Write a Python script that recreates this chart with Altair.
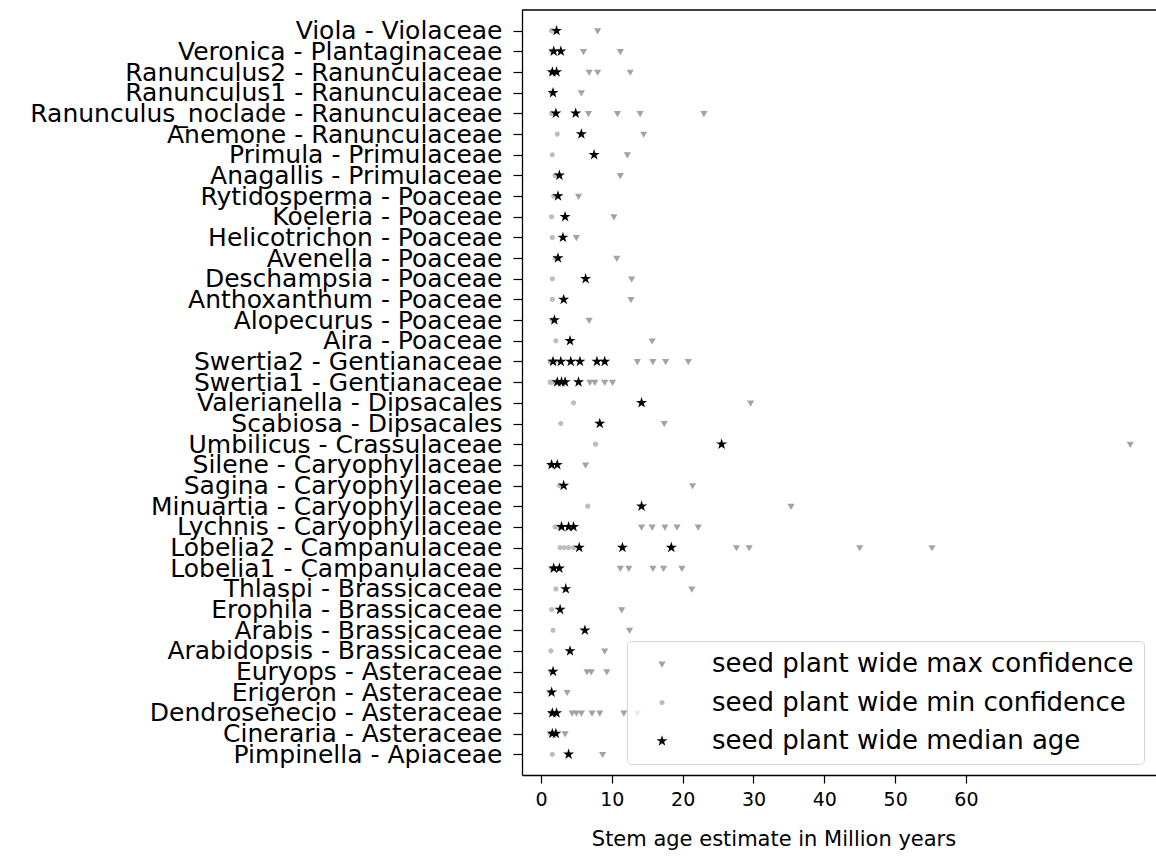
import altair as alt
import pandas as pd

# Taxa (genus - family), listed top to bottom
categories = [
    "Viola - Violaceae",
    "Veronica - Plantaginaceae",
    "Ranunculus2 - Ranunculaceae",
    "Ranunculus1 - Ranunculaceae",
    "Ranunculus_noclade - Ranunculaceae",
    "Anemone - Ranunculaceae",
    "Primula - Primulaceae",
    "Anagallis - Primulaceae",
    "Rytidosperma - Poaceae",
    "Koeleria - Poaceae",
    "Helicotrichon - Poaceae",
    "Avenella - Poaceae",
    "Deschampsia - Poaceae",
    "Anthoxanthum - Poaceae",
    "Alopecurus - Poaceae",
    "Aira - Poaceae",
    "Swertia2 - Gentianaceae",
    "Swertia1 - Gentianaceae",
    "Valerianella - Dipsacales",
    "Scabiosa - Dipsacales",
    "Umbilicus - Crassulaceae",
    "Silene - Caryophyllaceae",
    "Sagina - Caryophyllaceae",
    "Minuartia - Caryophyllaceae",
    "Lychnis - Caryophyllaceae",
    "Lobelia2 - Campanulaceae",
    "Lobelia1 - Campanulaceae",
    "Thlaspi - Brassicaceae",
    "Erophila - Brassicaceae",
    "Arabis - Brassicaceae",
    "Arabidopsis - Brassicaceae",
    "Euryops - Asteraceae",
    "Erigeron - Asteraceae",
    "Dendrosenecio - Asteraceae",
    "Cineraria - Asteraceae",
    "Pimpinella - Apiaceae",
]

# Stem age estimates (Myr), one list per taxon, same order as categories
max_confidence = [
    [8.0], [6.0, 11.2], [6.8, 8.0, 12.6], [5.7], [6.7, 10.8, 14.0, 23.0],
    [14.5], [12.2], [11.2], [5.3], [10.3], [5.0], [10.7], [12.8], [12.7],
    [6.8], [15.7], [13.6, 15.8, 17.6, 20.8], [6.9, 7.6, 9.0, 10.1], [29.6],
    [17.4], [83.2], [6.3], [21.4], [35.3], [14.2, 15.7, 17.5, 19.2, 22.2],
    [27.6, 29.4, 45.0, 55.2], [11.2, 12.4, 15.8, 17.3, 19.9], [21.3], [11.4],
    [12.5], [9.0], [6.5, 7.1, 9.3], [3.7], [4.4, 5.0, 5.7, 7.2, 8.3, 11.7, 13.6],
    [3.4], [8.7],
]
min_confidence = [
    [1.5], [1.5], [1.4], [1.5], [1.5], [2.3], [1.6], [2.0], [1.8], [1.5],
    [1.6], [2.0], [1.6], [1.6], [1.6], [2.1], [1.3, 1.5, 2.0], [1.3, 1.6, 2.0],
    [4.6], [2.8], [7.7], [1.3], [2.6], [6.6], [2.0, 2.5], [2.7, 3.3, 3.9, 4.6],
    [1.5], [2.1], [1.5], [1.7], [1.4], [1.4], [1.3], [1.4], [1.3], [1.6],
]
median_age = [
    [2.2], [1.8, 2.8], [1.6, 2.2], [1.7], [2.1, 4.9], [5.7], [7.5], [2.6],
    [2.4], [3.4], [3.1], [2.4], [6.3], [3.2], [1.9], [4.1],
    [1.7, 2.8, 4.2, 5.5, 7.9, 9.0], [2.3, 2.9, 3.4, 5.3], [14.2], [8.3], [25.5],
    [1.5, 2.3], [3.2], [14.2], [2.9, 3.9, 4.6], [5.4, 11.5, 18.4], [1.8, 2.6],
    [3.5], [2.7], [6.2], [4.1], [1.7], [1.5], [1.6, 2.2], [1.6, 2.1], [3.9],
]

series_names = [
    "seed plant wide max confidence",
    "seed plant wide min confidence",
    "seed plant wide median age",
]

rows = []
for name, table in zip(series_names, [max_confidence, min_confidence, median_age]):
    for cat, values in zip(categories, table):
        for v in values:
            rows.append({"taxon": cat, "series": name, "age": v})
df = pd.DataFrame(rows)

# Marker outlines in pixel units (drawn with symbol size 4, i.e. scale 1)
TRI_DOWN = "M-3.6,-2.4L3.6,-2.4L0,3.8Z"
DOT = "M-2.6,0A2.6,2.6 0 1,0 2.6,0A2.6,2.6 0 1,0 -2.6,0Z"
STAR = ("M0,-5.8L1.3,-1.79L5.52,-1.79L2.1,0.68L3.41,4.69L0,2.21"
        "L-3.41,4.69L-2.1,0.68L-5.52,-1.79L-1.3,-1.79Z")

W, H = 634, 765

points = alt.Chart(df).mark_point(
    filled=True, opacity=1, strokeWidth=0, size=4
).encode(
    x=alt.X(
        "age:Q",
        scale=alt.Scale(domain=[-2.68, 86.83], nice=False, zero=False),
        axis=alt.Axis(
            values=[0, 10, 20, 30, 40, 50, 60],
            title="Stem age estimate in Million years",
            grid=False,
            tickSize=8,
            labelPadding=7,
            labelFontSize=19,
            titleFontSize=21,
            titleFontWeight="normal",
            titleX=251.5,
            titleY=53,
            titleAnchor="middle",
        ),
    ),
    y=alt.Y(
        "taxon:N",
        sort=categories,
        scale=alt.Scale(type="point", padding=1.68),
        axis=alt.Axis(
            title=None,
            grid=False,
            tickSize=9,
            labelPadding=11,
            labelFontSize=25,
            labelLimit=700,
        ),
    ),
    color=alt.Color(
        "series:N",
        scale=alt.Scale(domain=series_names, range=["#a3a3a3", "#bdbdbd", "#000000"]),
        legend=alt.Legend(title=None),
    ),
    shape=alt.Shape(
        "series:N",
        scale=alt.Scale(domain=series_names, range=[TRI_DOWN, DOT, STAR]),
        legend=alt.Legend(title=None),
    ),
    order=alt.Order("idx:Q"),
).transform_window(idx="row_number()")

top_line = alt.Chart(pd.DataFrame({"k": [0]})).mark_rule(
    color="black", strokeWidth=1.3
).encode(x=alt.value(0), x2=alt.value(W), y=alt.value(0))

chart = (
    alt.layer(top_line, points)
    .properties(
        width=W,
        height=H,
        autosize=alt.AutoSizeParams(type="none"),
        padding={"left": 522, "top": 10, "right": 0, "bottom": 80},
    )
    .configure(font="DejaVu Sans")
    .configure_view(stroke=None)
    .configure_axis(
        domainColor="black",
        domainWidth=1.3,
        tickColor="black",
        tickWidth=1.2,
        labelColor="black",
        titleColor="black",
        labelFont="DejaVu Sans",
        titleFont="DejaVu Sans",
    )
    .configure_legend(
        orient="none",
        legendX=105,
        legendY=631,
        labelFontSize=26,
        labelFont="DejaVu Sans",
        labelColor="black",
        labelLimit=700,
        padding=10,
        rowPadding=12.5,
        symbolSize=4,
        symbolOffset=12,
        labelOffset=37,
        strokeColor="#d5d5d5",
        fillColor="rgba(255,255,255,0.8)",
        cornerRadius=4,
    )
)

chart.save("out.html", embed_options={"renderer": "svg", "actions": False})
